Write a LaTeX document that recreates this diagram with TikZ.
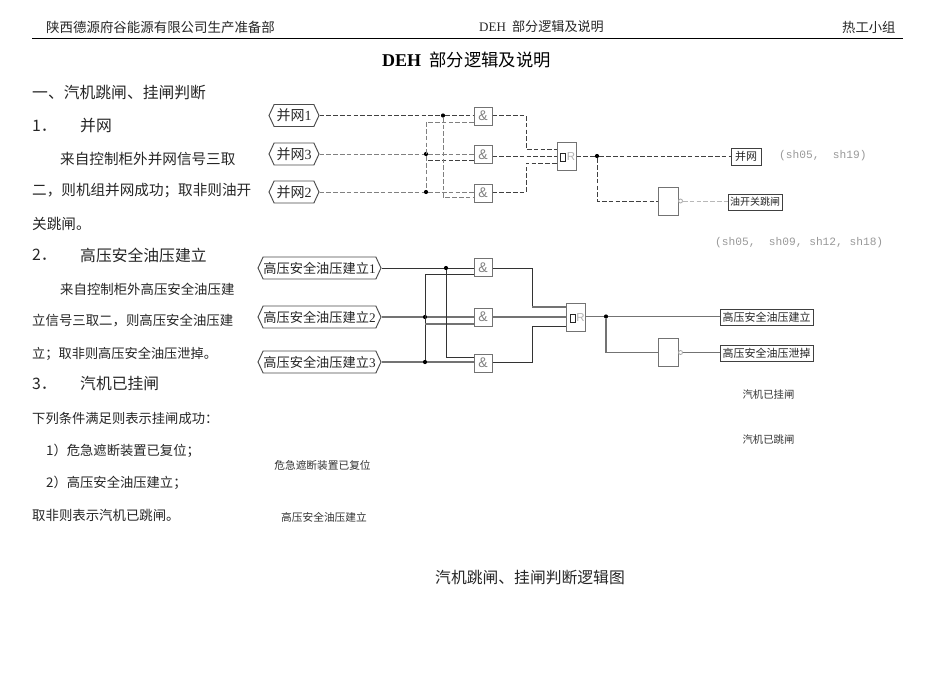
\documentclass[tikz,border=0pt]{standalone}
\usepackage{fontspec}
\setmainfont{Liberation Serif}
\newfontfamily\cjk{Noto Sans CJK SC}
\newfontfamily\monof{Liberation Mono}
\newfontfamily\sansf{Liberation Sans}
\usetikzlibrary{shapes.symbols}
\newcommand{\fs}[1]{\fontsize{#1}{#1}\selectfont}
\tikzset{
  txt/.style={inner sep=0pt,anchor=west,text=black!85,font=\cjk\fs{#1}},
  lbl/.style={inner sep=0pt,text=black!80,font=\cjk\fs{10.4}},
  refs/.style={inner sep=0pt,anchor=west,text=black!40,font=\monof\fs{11.2}},
  hexa/.style={draw=black!70,line width=0.95pt,shape=signal,signal to=west and east,signal pointer angle=130,inner sep=0pt,text=black!85,font=\cjk\fs{#1}},
  gate/.style={draw=black!55,line width=1pt,fill=white,inner sep=0pt,minimum width=#1},
  andg/.style={gate=18pt,minimum height=18pt,text=black!50,font=\sansf\fs{14}},
  org/.style={gate=19pt,minimum height=28pt},
  notg/.style={gate=20pt,minimum height=28pt},
  outb/.style={draw=black!75,line width=0.9pt,inner sep=0pt,text=black!85,font=\cjk\fs{#1}},
  dl/.style={line width=0.85pt,draw=black!75,dash pattern=on 4.6pt off 2.2pt},
  dg/.style={line width=1pt,draw=black!50,dash pattern=on 4.6pt off 2.2pt},
  dlg/.style={dg,draw=black!28},
  sl/.style={line width=0.85pt,draw=black!80},
  sg/.style={line width=1.1pt,draw=black!55},
  dotn/.style={circle,fill=black,inner sep=0pt,minimum size=4.2pt},
  inv/.style={circle,draw=black!35,line width=0.8pt,fill=white,inner sep=0pt,minimum size=4pt},
  coil/.style={draw=black!85,line width=0.9pt,inner sep=0pt,minimum width=5pt,minimum height=8pt},
  rr/.style={inner sep=0pt,text=black!30,font=\sansf\fs{11.5}},
}
\begin{document}
\begin{tikzpicture}[x=1pt,y=-1pt]
\useasboundingbox (0,0) rectangle (950,672);
\fill[white] (0,0) rectangle (950,672);
% header
\node[txt=13.45] (hd1) at (46,27) {陕西德源府谷能源有限公司生产准备部};
\node[inner sep=0pt,anchor=west,text=black!85,font=\fs{13}] (hd2) at (479,27) {DEH {\cjk\fs{13.1} 部分逻辑及说明}};
\node[txt=13.3] (hd3) at (842,27) {热工小组};
\coordinate (ruleL) at (32,38);
\coordinate (ruleR) at (903,38);
\draw[line width=0.9pt,black] (ruleL) -- (ruleR);
\node[inner sep=0pt,anchor=west,text=black,font=\fs{18}] (title) at (382,60) {\textbf{DEH} {\cjk\fs{17.3} 部分逻辑及说明}};
% left text
\node[txt=15.8] (t1) at (32,93) {一、汽机跳闸、挂闸判断};
\node[txt=15.8] (t2) at (32,126) {1．};
\node[txt=15.8] (t3) at (80,126) {并网};
\node[txt=14.6] (t4) at (60,159) {来自控制柜外并网信号三取};
\node[txt=14.6] (t5) at (32,191) {二，则机组并网成功；取非则油开};
\node[txt=14.6] (t6) at (32,224) {关跳闸。};
\node[txt=15.8] (t7) at (32,255) {2．};
\node[txt=15.8] (t8) at (80,255) {高压安全油压建立};
\node[txt=13.4] (t9) at (60,289) {来自控制柜外高压安全油压建};
\node[txt=13.4] (t10) at (32,321) {立信号三取二，则高压安全油压建};
\node[txt=13.2] (t11) at (32,354) {立；取非则高压安全油压泄掉。};
\node[txt=15.8] (t12) at (32,384) {3．};
\node[txt=15.8] (t13) at (80,384) {汽机已挂闸};
\node[txt=13.3] (t14) at (32,418) {下列条件满足则表示挂闸成功：};
\node[txt=13.3] (t15) at (46,451) {1）危急遮断装置已复位；};
\node[txt=13.3] (t16) at (46,483) {2）高压安全油压建立；};
\node[txt=13.4] (t17) at (32,515) {取非则表示汽机已跳闸。};
\node[txt=15.8] (cap) at (435,578) {汽机跳闸、挂闸判断逻辑图};
% upper logic
\node[hexa=14,minimum width=50pt,minimum height=22pt] (h1) at (294,115.5) {并网{\rmfamily 1}};
\node[hexa=14,minimum width=50pt,minimum height=22pt] (h3) at (294,154) {并网{\rmfamily 3}};
\node[hexa=14,minimum width=50pt,minimum height=22pt] (h2) at (294,192) {并网{\rmfamily 2}};
\node[andg] (a1) at (483,116) {\&};
\node[andg] (a3) at (483,154.5) {\&};
\node[andg] (a2) at (483,193) {\&};
\node[org] (o1) at (566.5,156) {};
\node[coil] (c1) at (562.5,157) {};
\node[rr] (r1) at (571,156.5) {R};
\node[outb=11,minimum width=30pt,minimum height=17pt] (b1) at (746,156.5) {并网};
\node[notg] (n1) at (668,201) {};
\node[inv] (i1) at (680.5,201) {};
\node[outb=10,minimum width=54pt,minimum height=16pt] (b2) at (755,202) {油开关跳闸};
\node[refs] (s1) at (779,156) {(sh05,\ \ sh19)};
\node[refs] (s2) at (715,243) {(sh05,\ \ sh09, sh12, sh18)};
\node[dotn] (d1) at (443,115.5) {};
\node[dotn] (d2) at (426,154) {};
\node[dotn] (d3) at (426,192) {};
\node[dotn] (d4) at (597,156) {};
\draw[dl] (h1.east) -- (d1) -- (a1.west |- d1);
\draw[dg] (h3.east) -- (d2) -- (a3.west |- d2);
\draw[dg] (h2.east) -- (d3) -- (a2.west |- d3);
\draw[dg] (a1.west |- 0,122) -| (d3);
\draw[dl] (a3.west |- 0,160) -- (d2 |- 0,160);
\draw[dg] (d1) |- (a2.west |- 0,197);
\draw[dl] (a1.east |- d1) -| (526,149) -- (o1.west |- 0,149);
\draw[dl] (a3.east |- 0,156) -- (o1.west |- 0,156);
\draw[dl] (a2.east |- d3) -| (526,163) -- (o1.west |- 0,163);
\draw[dl] (o1.east) -- (d4) -- (b1.west |- d4);
\draw[dl] (d4) |- (n1.west);
\draw[dlg] (i1.east) -- (b2.west |- i1);
% lower logic
\node[hexa=13.2,minimum width=123pt,minimum height=22pt] (k1) at (319.5,268) {高压安全油压建立{\rmfamily 1}};
\node[hexa=13.2,minimum width=123pt,minimum height=22pt] (k2) at (319.5,317) {高压安全油压建立{\rmfamily 2}};
\node[hexa=13.2,minimum width=123pt,minimum height=22pt] (k3) at (319.5,362) {高压安全油压建立{\rmfamily 3}};
\node[andg] (e1) at (483,267.5) {\&};
\node[andg] (e2) at (483,317) {\&};
\node[andg] (e3) at (483,363) {\&};
\node[org] (o2) at (576,317) {};
\node[coil] (c2) at (572.5,318) {};
\node[rr] (r2) at (580.5,317.5) {R};
\node[outb=11,minimum width=93pt,minimum height=16pt] (b3) at (766.5,317) {高压安全油压建立};
\node[notg] (n2) at (668,352.5) {};
\node[inv] (i2) at (680.5,352.5) {};
\node[outb=11,minimum width=93pt,minimum height=16pt] (b4) at (766.5,353) {高压安全油压泄掉};
\node[dotn] (d5) at (446,268) {};
\node[dotn] (d6) at (425,317) {};
\node[dotn] (d7) at (425,362) {};
\node[dotn] (d8) at (606,316.5) {};
\draw[sl] (k1.east) -- (d5) -- (e1.west |- d5);
\draw[sg] (k2.east) -- (d6) -- (e2.west |- d6);
\draw[sg] (k3.east) -- (d7) -- (e3.west |- d7);
\draw[sl] (e1.west |- 0,274) -| (d7);
\draw[sg] (e2.west |- 0,324) -- (d6 |- 0,324);
\draw[sl] (d5) |- (e3.west |- 0,357);
\draw[sl] (e1.east |- d5) -| (532,307);
\draw[sg] (532,307) -- (o2.west |- 0,307);
\draw[sg] (e2.east) -- (o2.west |- e2);
\draw[sl] (e3.east |- d7) -| (532,326) -- (o2.west |- 0,326);
\draw[sg] (o2.east |- d8) -- (d8) -- (b3.west |- d8);
\draw[sg] (d8) |- (n2.west);
\draw[sg] (i2.east) -- (b4.west |- i2);
% loose labels
\node[lbl] (l1) at (768.5,395) {汽机已挂闸};
\node[lbl] (l2) at (768.5,440) {汽机已跳闸};
\node[lbl,font=\cjk\fs{10.7}] (l3) at (322.5,465) {危急遮断装置已复位};
\node[lbl,font=\cjk\fs{10.7}] (l4) at (324,517) {高压安全油压建立};
\end{tikzpicture}
\end{document}
